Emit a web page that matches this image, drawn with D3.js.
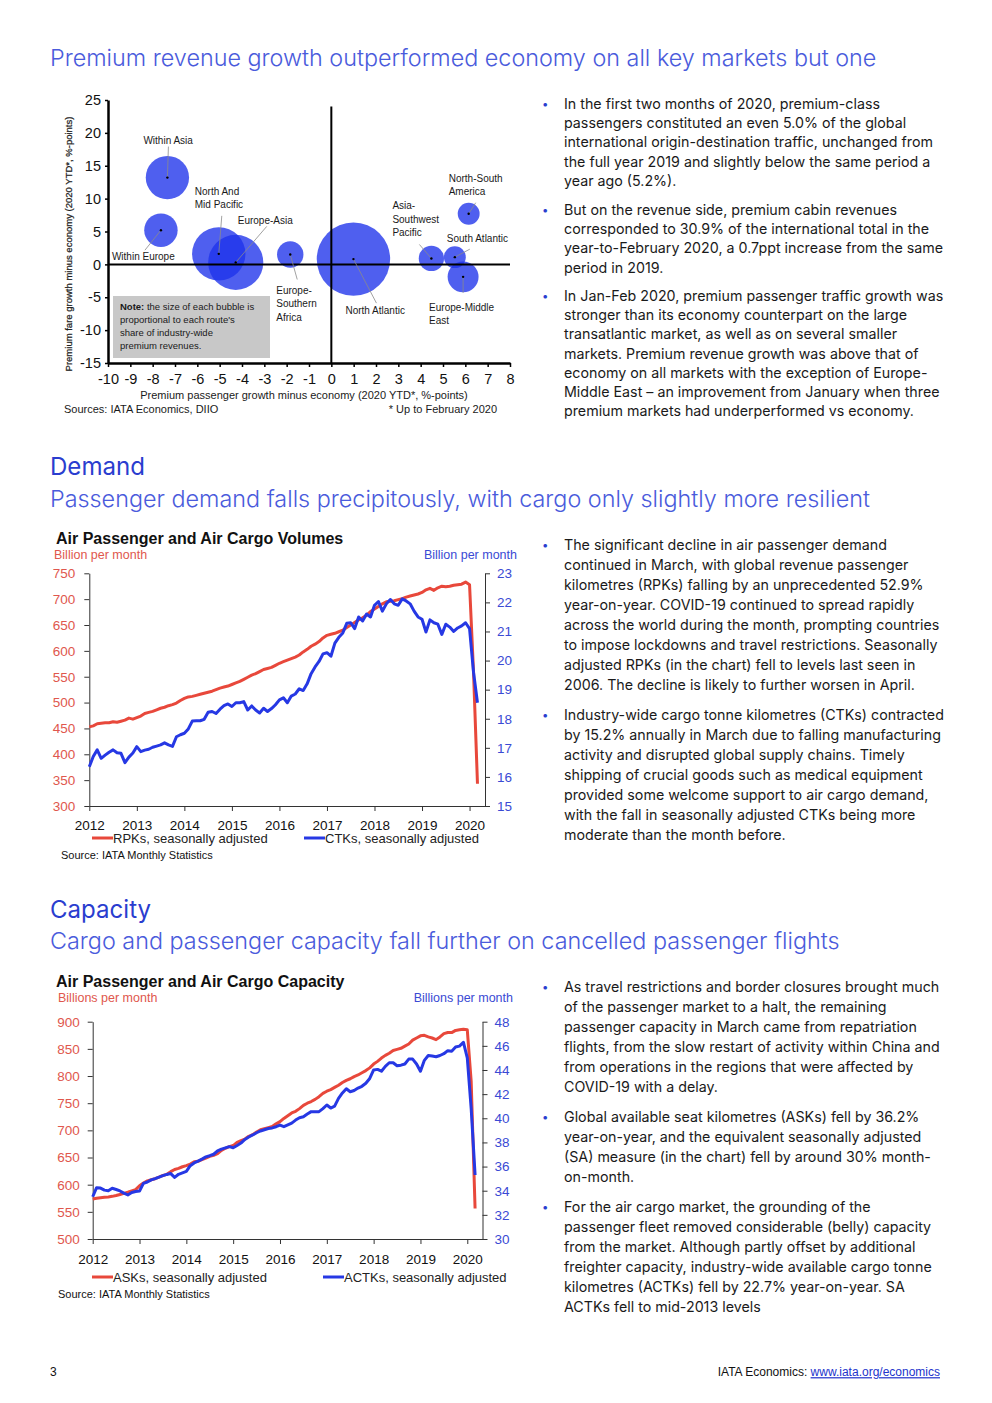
<!DOCTYPE html>
<html>
<head>
<meta charset="utf-8">
<script src="https://cdn.jsdelivr.net/npm/d3@7"></script>
<style>
  body { margin: 0; background: #fff; }
  svg { display: block; }
</style>
</head>
<body>
<svg id="page"></svg>
<script>
// ---------- data: premium bubble chart ----------
const routes = ["Within Asia", "Within Europe", "North And Mid Pacific", "Europe-Asia",
  "Europe-Southern Africa", "North Atlantic", "Asia-Southwest Pacific", "South Atlantic",
  "Europe-Middle East", "North-South America"];
const paxGrowthGap  = [-7.34, -7.63, -5.04, -4.28, -1.84, 0.99, 4.48, 5.53, 5.90, 6.15];
const fareGrowthGap = [13.2, 5.2, 1.6, 0.3, 1.5, 0.8, 0.9, 1.1, -1.9, 7.7];
const revenueShare  = [9.4, 5.6, 14.3, 15.2, 3.5, 27.0, 3.2, 2.4, 4.8, 2.4];

// ---------- data: monthly series, Jan 2012 - Mar 2020 ----------
const months = d3.timeMonths(new Date(2012, 0, 1), new Date(2020, 3, 1));
const yearTicks = [2012, 2013, 2014, 2015, 2016, 2017, 2018, 2019, 2020];

const rpk = [453, 455, 459, 460, 461, 461, 463, 462, 464, 466, 470, 468,
  471, 474, 479, 481, 483, 486, 489, 491, 494, 496, 499, 504,
  508, 511, 512, 514, 516, 518, 520, 522, 525, 528, 530, 532,
  535, 538, 541, 545, 549, 553, 556, 560, 564, 566, 568, 572,
  576, 579, 582, 585, 588, 592, 598, 603, 609, 613, 618, 625,
  630, 632, 634, 637, 640, 645, 650, 655, 660, 664, 669, 676,
  681, 686, 691, 695, 696, 697, 699, 701, 704, 706, 708, 710,
  713, 718, 721, 717, 722, 725, 724, 725, 727, 728, 729, 733,
  728, 560, 343];
const ctk = [16.35, 16.7, 16.93, 16.64, 16.75, 16.85, 16.93, 16.83, 16.81, 16.49, 16.68, 16.82,
  17.04, 16.87, 16.92, 16.95, 17.02, 17.06, 17.1, 17.17, 17.1, 17.05, 17.38, 17.45,
  17.5, 17.65, 17.92, 17.93, 17.93, 17.98, 18.22, 18.25, 18.18, 18.33, 18.45, 18.51,
  18.42, 18.55, 18.55, 18.59, 18.3, 18.44, 18.3, 18.2, 18.36, 18.25, 18.35, 18.48,
  18.65, 18.72, 18.55, 18.78, 18.85, 19.03, 18.97, 19.2, 19.55, 19.78, 19.97, 20.23,
  20.27, 20.15, 20.6, 20.8, 20.95, 21.28, 21.3, 21.1, 21.5, 21.36, 21.6, 21.5,
  21.9, 22.03, 21.7, 21.95, 22.1, 21.95, 21.9, 22.12, 22.05, 21.95, 21.7, 21.5,
  21.42, 20.98, 21.4, 21.3, 21.25, 20.9, 21.25, 21.15, 21.0, 21.12, 21.19, 21.3,
  21.1, 19.6, 18.55];
const ask = [573.6, 575, 576, 577, 577.5, 578.5, 580, 582, 584, 586, 588.5, 591,
  598, 603, 607, 609, 611, 614, 617, 619, 624, 628, 630, 633,
  635, 638, 642, 643, 646, 649, 652, 654, 657, 663, 667, 670,
  672, 678, 681, 684, 689, 692, 697, 701, 703, 705, 707, 712,
  716, 722, 727, 732, 735, 740, 746, 750, 753, 757, 762, 768,
  772, 775, 779, 783, 788, 792, 795, 799, 802, 806, 810, 815,
  822, 827, 833, 838, 842, 847, 849, 851, 855, 859, 866, 870,
  874, 875, 872, 870, 867, 872, 878, 880, 880, 884, 885, 886,
  885, 790, 556];
const actk = [33.5, 34.25, 34.22, 34.05, 34.0, 34.2, 34.1, 33.98, 33.8, 33.65, 33.85, 33.93,
  33.98, 34.61, 34.72, 34.9, 35.0, 35.12, 35.25, 35.35, 35.42, 35.1, 35.36, 35.48,
  35.6, 36.07, 36.3, 36.45, 36.62, 36.8, 36.9, 37.02, 37.3, 37.45, 37.55, 37.65,
  37.56, 37.75, 37.95, 38.25, 38.45, 38.62, 38.8, 38.95, 39.05, 39.15, 39.2, 39.3,
  39.44, 39.3, 39.45, 39.6, 39.85, 40.05, 40.13, 40.35, 40.55, 40.55, 40.55, 40.8,
  41.1, 40.85, 41.0, 41.65, 42.1, 42.45, 42.2, 42.3, 42.5, 42.65, 42.9, 43.3,
  44.0, 44.05, 43.9, 44.3, 44.6, 44.6, 44.35, 44.4, 44.5, 44.9, 44.9, 44.5,
  43.9, 44.8, 45.2, 45.15, 45.1, 45.2, 45.35, 45.6, 45.55, 45.9, 45.98, 46.3,
  45.0, 40.8, 35.3];

// ---------- page text ----------
const paragraphs1 = [
  ["In the first two months of 2020, premium-class",
   "passengers constituted an even 5.0% of the global",
   "international origin-destination traffic, unchanged from",
   "the full year 2019 and slightly below the same period a",
   "year ago (5.2%)."],
  ["But on the revenue side, premium cabin revenues",
   "corresponded to 30.9% of the international total in the",
   "year-to-February 2020, a 0.7ppt increase from the same",
   "period in 2019."],
  ["In Jan-Feb 2020, premium passenger traffic growth was",
   "stronger than its economy counterpart on the large",
   "transatlantic market, as well as on several smaller",
   "markets. Premium revenue growth was above that of",
   "economy on all markets with the exception of Europe-",
   "Middle East \u2013 an improvement from January when three",
   "premium markets had underperformed vs economy."]
];
const paragraphs2 = [
  ["The significant decline in air passenger demand",
   "continued in March, with global revenue passenger",
   "kilometres (RPKs) falling by an unprecedented 52.9%",
   "year-on-year. COVID-19 continued to spread rapidly",
   "across the world during the month, prompting countries",
   "to impose lockdowns and travel restrictions. Seasonally",
   "adjusted RPKs (in the chart) fell to levels last seen in",
   "2006. The decline is likely to further worsen in April."],
  ["Industry-wide cargo tonne kilometres (CTKs) contracted",
   "by 15.2% annually in March due to falling manufacturing",
   "activity and disrupted global supply chains. Timely",
   "shipping of crucial goods such as medical equipment",
   "provided some welcome support to air cargo demand,",
   "with the fall in seasonally adjusted CTKs being more",
   "moderate than the month before."]
];
const paragraphs3 = [
  ["As travel restrictions and border closures brought much",
   "of the passenger market to a halt, the remaining",
   "passenger capacity in March came from repatriation",
   "flights, from the slow restart of activity within China and",
   "from operations in the regions that were affected by",
   "COVID-19 with a delay."],
  ["Global available seat kilometres (ASKs) fell by 36.2%",
   "year-on-year, and the equivalent seasonally adjusted",
   "(SA) measure (in the chart) fell by around 30% month-",
   "on-month."],
  ["For the air cargo market, the grounding of the",
   "passenger fleet removed considerable (belly) capacity",
   "from the market. Although partly offset by additional",
   "freighter capacity, industry-wide available cargo tonne",
   "kilometres (ACTKs) fell by 22.7% year-on-year. SA",
   "ACTKs fell to mid-2013 levels"]
];

// ---------- styles ----------
const W = 992, H = 1403;
const PAGE_FONT = "Inter, 'Open Sans', 'Noto Sans', sans-serif";
const CHART_FONT = "'Liberation Sans', Arial, sans-serif";
const HEAD_BLUE = "#4a5bdc";
const DARK_BLUE = "#2a3dcf";
const RED_LINE = "#e8483b";
const RED_TEXT = "#e0574d";
const BLUE_LINE = "#2638e4";
const BLUE_TEXT = "#3a4ad4";
const BUBBLE = "rgb(30,50,235)";

const svg = d3.select("#page").attr("width", W).attr("height", H);
svg.append("rect").attr("width", W).attr("height", H).attr("fill", "#fff");

function fitWidth(sel, target) {
  const len = sel.node().getComputedTextLength();
  const fs = parseFloat(sel.attr("font-size"));
  const size = fs * target / len;
  sel.attr("font-size", size);
  return size;
}

// ---------- headings ----------
const heads = svg.append("g").attr("font-family", PAGE_FONT);
const h1 = heads.append("text").attr("x", 50).attr("y", 58).attr("dy", "0.35em")
  .attr("font-size", 24).attr("font-weight", 300).attr("fill", HEAD_BLUE)
  .text("Premium revenue growth outperformed economy on all key markets but one");
const headSize = fitWidth(h1, 827);

[["Passenger demand falls precipitously, with cargo only slightly more resilient", 499],
 ["Cargo and passenger capacity fall further on cancelled passenger flights", 941]]
  .forEach(([t, y]) => {
    heads.append("text").attr("x", 50).attr("y", y).attr("dy", "0.35em")
      .attr("font-size", headSize).attr("font-weight", 300).attr("fill", HEAD_BLUE).text(t);
  });

const dem = heads.append("text").attr("x", 50).attr("y", 467).attr("dy", "0.35em")
  .attr("font-size", 24).attr("font-weight", 400).attr("fill", DARK_BLUE).text("Demand");
const secSize = fitWidth(dem, 95);
heads.append("text").attr("x", 50).attr("y", 910).attr("dy", "0.35em")
  .attr("font-size", secSize).attr("font-weight", 400).attr("fill", DARK_BLUE).text("Capacity");

// ---------- body text ----------
const body = svg.append("g").attr("font-family", PAGE_FONT).attr("fill", "#1a1a1a");
const probe = body.append("text").attr("font-size", 14).text(paragraphs1[0][0]);
const bodySize = fitWidth(probe, 316);
probe.remove();

function writeBlock(paras, starts, lineH) {
  paras.forEach((lines, p) => {
    body.append("text").attr("x", 542).attr("y", starts[p]).attr("dy", "0.35em")
      .attr("font-size", bodySize * 0.8).attr("fill", DARK_BLUE).text("\u2022");
    lines.forEach((l, i) => {
      body.append("text").attr("x", 564).attr("y", starts[p] + i * lineH)
        .attr("dy", "0.35em").attr("font-size", bodySize).text(l);
    });
  });
}
writeBlock(paragraphs1, [104, 210, 296], 19.2);
writeBlock(paragraphs2, [545, 715], 20);
writeBlock(paragraphs3, [987, 1117, 1207], 20);

// ---------- bubble chart ----------
const bx = d3.scaleLinear().domain([-10, 8]).range([108, 510]);
const by = d3.scaleLinear().domain([-15, 25]).range([363, 100]);
const br = d3.scaleSqrt().domain([0, 27]).range([0, 36.7]);

const gB = svg.append("g").attr("font-family", CHART_FONT).attr("fill", "#1a1a1a");

const bubbles = routes.map((r, i) => ({
  route: r, x: paxGrowthGap[i], y: fareGrowthGap[i], share: revenueShare[i]
}));

// note box
gB.append("rect").attr("x", 113).attr("y", 296).attr("width", 157).attr("height", 62)
  .attr("fill", "#c8c8c8");
const note = ["the size of each bubble is", "proportional to each route's",
  "share of industry-wide", "premium revenues."];
note.forEach((t, i) => {
  const tx = gB.append("text").attr("x", 120).attr("y", 307 + i * 13).attr("dy", "0.35em")
    .attr("font-size", 9.5);
  if (i === 0) {
    tx.append("tspan").attr("font-weight", "bold").text("Note:");
    tx.append("tspan").text(" " + t);
  } else tx.text(t);
});

gB.selectAll("circle.bubble")
  .data(bubbles)
  .join("circle")
    .attr("class", "bubble")
    .attr("cx", d => bx(d.x))
    .attr("cy", d => by(d.y))
    .attr("r", d => br(d.share))
    .attr("fill", BUBBLE)
    .attr("fill-opacity", 0.78);

// zero lines
gB.append("line").attr("x1", bx(-10)).attr("x2", bx(8)).attr("y1", by(0)).attr("y2", by(0))
  .attr("stroke", "#000").attr("stroke-width", 2);
gB.append("line").attr("x1", bx(0)).attr("x2", bx(0)).attr("y1", by(24)).attr("y2", by(-15))
  .attr("stroke", "#000").attr("stroke-width", 2);

// labels + leaders (offsets from bubble centre, px)
const labelLayout = {
  "Within Asia":            { lines: ["Within Asia"], dx: -24, dy: -34, lx: 1, ly: -31 },
  "Within Europe":          { lines: ["Within Europe"], dx: -49, dy: 30, lx: -16, ly: 20 },
  "North And Mid Pacific":  { lines: ["North And", "Mid Pacific"], dx: -24, dy: -59, lx: 3, ly: -38 },
  "Europe-Asia":            { lines: ["Europe-Asia"], dx: 2, dy: -38, lx: 31, ly: -36 },
  "Europe-Southern Africa": { lines: ["Europe-", "Southern", "Africa"], dx: -14, dy: 39, lx: 7, ly: 25 },
  "North Atlantic":         { lines: ["North Atlantic"], dx: -8, dy: 55, lx: 23, ly: 44 },
  "Asia-Southwest Pacific": { lines: ["Asia-", "Southwest", "Pacific"], dx: -39, dy: -49, lx: -12, ly: -14 },
  "South Atlantic":         { lines: ["South Atlantic"], dx: -8, dy: -15, lx: 15, ly: -8 },
  "Europe-Middle East":     { lines: ["Europe-Middle", "East"], dx: -34, dy: 34, lx: 0, ly: 16 },
  "North-South America":    { lines: ["North-South", "America"], dx: -20, dy: -32, lx: 7, ly: -11 }
};
bubbles.forEach(d => {
  const L = labelLayout[d.route];
  const cx = bx(d.x), cy = by(d.y);
  gB.append("line").attr("x1", cx + L.lx).attr("y1", cy + L.ly).attr("x2", cx).attr("y2", cy)
    .attr("stroke", "#8a8a8a").attr("stroke-width", 0.8);
  gB.append("circle").attr("cx", cx).attr("cy", cy).attr("r", 1.2).attr("fill", "#000");
  L.lines.forEach((t, i) => {
    gB.append("text").attr("x", cx + L.dx).attr("y", cy + L.dy + i * 13.5)
      .attr("font-size", 10).text(t);
  });
});

// axes (plain hyphen minus, as in the source)
const fmtPlain = d => String(d);
const yAxB = gB.append("g").attr("transform", `translate(${bx(-10)},0)`)
  .call(d3.axisLeft(by).tickValues(d3.range(-15, 26, 5)).tickFormat(fmtPlain)
    .tickSize(3).tickSizeOuter(0).tickPadding(4));
const xAxB = gB.append("g").attr("transform", `translate(0,${by(-15)})`)
  .call(d3.axisBottom(bx).tickValues(d3.range(-10, 9, 1)).tickFormat(fmtPlain)
    .tickSize(4).tickSizeOuter(0).tickPadding(7));
[yAxB, xAxB].forEach(a => {
  a.select(".domain").attr("stroke", "#000").attr("stroke-width", 2.5);
  a.selectAll(".tick line").attr("stroke", "#000").attr("stroke-width", 1.5);
  a.selectAll("text").attr("font-family", CHART_FONT).attr("font-size", 14.5).attr("fill", "#111");
});

gB.append("text").attr("transform", "translate(69,244) rotate(-90)")
  .attr("text-anchor", "middle").attr("dy", "0.35em").attr("font-size", 9.5)
  .attr("fill", "#222").attr("stroke", "#222").attr("stroke-width", 0.25)
  .text("Premium fare growth minus economy (2020 YTD*, %-points)");
gB.append("text").attr("x", 304).attr("y", 395).attr("dy", "0.35em").attr("text-anchor", "middle")
  .attr("font-size", 11).text("Premium passenger growth minus economy (2020 YTD*, %-points)");
gB.append("text").attr("x", 64).attr("y", 409).attr("dy", "0.35em").attr("font-size", 11)
  .text("Sources: IATA Economics, DIIO");
gB.append("text").attr("x", 497).attr("y", 409).attr("dy", "0.35em").attr("font-size", 11)
  .attr("text-anchor", "end").text("* Up to February 2020");

// ---------- dual-axis line charts ----------
function dualChart(cfg) {
  const g = svg.append("g").attr("font-family", CHART_FONT);
  const x = d3.scaleLinear().domain([0, 99.9]).range([cfg.left, cfg.right]);
  const yL = d3.scaleLinear().domain(cfg.leftDomain).range([cfg.bottom, cfg.top]);
  const yR = d3.scaleLinear().domain(cfg.rightDomain).range([cfg.bottom, cfg.top]);

  g.append("text").attr("x", 56).attr("y", cfg.titleY).attr("dy", "0.35em")
    .attr("font-size", 16).attr("font-weight", "bold").attr("fill", "#111").text(cfg.title);
  g.append("text").attr("x", cfg.unitLX).attr("y", cfg.titleY + 17).attr("dy", "0.35em")
    .attr("font-size", 12.5).attr("fill", RED_TEXT).text(cfg.unit);
  g.append("text").attr("x", cfg.unitRX).attr("y", cfg.titleY + 17).attr("dy", "0.35em")
    .attr("text-anchor", "end").attr("font-size", 12.5).attr("fill", BLUE_TEXT).text(cfg.unit);

  const aL = g.append("g").attr("transform", `translate(${cfg.left},0)`)
    .call(d3.axisLeft(yL).tickValues(d3.range(cfg.leftDomain[0], cfg.leftDomain[1] + 1, cfg.leftStep))
      .tickSize(5).tickSizeOuter(0).tickPadding(cfg.padL));
  aL.selectAll("text").attr("fill", RED_TEXT);
  const aR = g.append("g").attr("transform", `translate(${cfg.right},0)`)
    .call(d3.axisRight(yR).tickValues(d3.range(cfg.rightDomain[0], cfg.rightDomain[1] + 0.01, cfg.rightStep))
      .tickSize(5).tickSizeOuter(0).tickPadding(7));
  aR.selectAll("text").attr("fill", BLUE_TEXT);
  const aB = g.append("g").attr("transform", `translate(0,${cfg.bottom})`)
    .call(d3.axisBottom(x).tickValues(yearTicks.map((yv, i) => i * 12))
      .tickFormat((d, i) => yearTicks[i]).tickSize(5).tickSizeOuter(0).tickPadding(cfg.padB));
  aB.selectAll("text").attr("fill", "#111");
  [aL, aR, aB].forEach(a => {
    a.select(".domain").attr("stroke", "#333").attr("stroke-width", 1);
    a.selectAll(".tick line").attr("stroke", "#333");
    a.selectAll("text").attr("font-family", CHART_FONT).attr("font-size", 13.5);
  });

  const lineL = d3.line().x((d, i) => x(i)).y(d => yL(d));
  const lineR = d3.line().x((d, i) => x(i)).y(d => yR(d));
  g.append("path").datum(cfg.leftSeries).attr("d", lineL).attr("fill", "none")
    .attr("stroke", RED_LINE).attr("stroke-width", 3).attr("stroke-linejoin", "round");
  g.append("path").datum(cfg.rightSeries).attr("d", lineR).attr("fill", "none")
    .attr("stroke", BLUE_LINE).attr("stroke-width", 3).attr("stroke-linejoin", "round");

  // legend
  const ly = cfg.legendY;
  g.append("line").attr("x1", 92).attr("x2", 113).attr("y1", ly).attr("y2", ly)
    .attr("stroke", RED_LINE).attr("stroke-width", 3);
  g.append("text").attr("x", 113).attr("y", ly).attr("dy", "0.35em").attr("font-size", 13)
    .attr("fill", "#222").text(cfg.leftName);
  g.append("line").attr("x1", cfg.legend2X).attr("x2", cfg.legend2X + 21).attr("y1", ly).attr("y2", ly)
    .attr("stroke", BLUE_LINE).attr("stroke-width", 3);
  g.append("text").attr("x", cfg.legend2X + 21).attr("y", ly).attr("dy", "0.35em").attr("font-size", 13)
    .attr("fill", "#222").text(cfg.rightName);
  g.append("text").attr("x", cfg.sourceX).attr("y", cfg.sourceY).attr("dy", "0.35em")
    .attr("font-size", 11).attr("fill", "#111").text("Source: IATA Monthly Statistics");
}

dualChart({
  title: "Air Passenger and Air Cargo Volumes", titleY: 538,
  unit: "Billion per month", unitLX: 54, unitRX: 517,
  left: 89.3, right: 485, top: 573.3, bottom: 806,
  leftDomain: [300, 750], leftStep: 50, rightDomain: [15, 23], rightStep: 1,
  padL: 9, padB: 9,
  leftSeries: rpk, rightSeries: ctk,
  leftName: "RPKs, seasonally adjusted", rightName: "CTKs, seasonally adjusted",
  legendY: 838, legend2X: 304, sourceX: 61, sourceY: 855
});

dualChart({
  title: "Air Passenger and Air Cargo Capacity", titleY: 981,
  unit: "Billions per month", unitLX: 58, unitRX: 513,
  left: 92.7, right: 482.5, top: 1021.7, bottom: 1239,
  leftDomain: [500, 900], leftStep: 50, rightDomain: [30, 48], rightStep: 2,
  padL: 8, padB: 10,
  leftSeries: ask, rightSeries: actk,
  leftName: "ASKs, seasonally adjusted", rightName: "ACTKs, seasonally adjusted",
  legendY: 1277, legend2X: 323, sourceX: 58, sourceY: 1294
});

// ---------- footer ----------
const foot = svg.append("g").attr("font-family", "'Liberation Sans Narrow', 'Liberation Sans', sans-serif");
foot.append("text").attr("x", 50).attr("y", 1372).attr("dy", "0.35em").attr("font-size", 12)
  .attr("fill", "#111").text("3");
const ft = foot.append("text").attr("x", 940).attr("y", 1372).attr("dy", "0.35em")
  .attr("text-anchor", "end").attr("font-size", 12).attr("fill", "#111");
ft.append("tspan").text("IATA Economics: ");
ft.append("tspan").attr("fill", "#2233cc").attr("text-decoration", "underline").text("www.iata.org/economics");
</script>
</body>
</html>
